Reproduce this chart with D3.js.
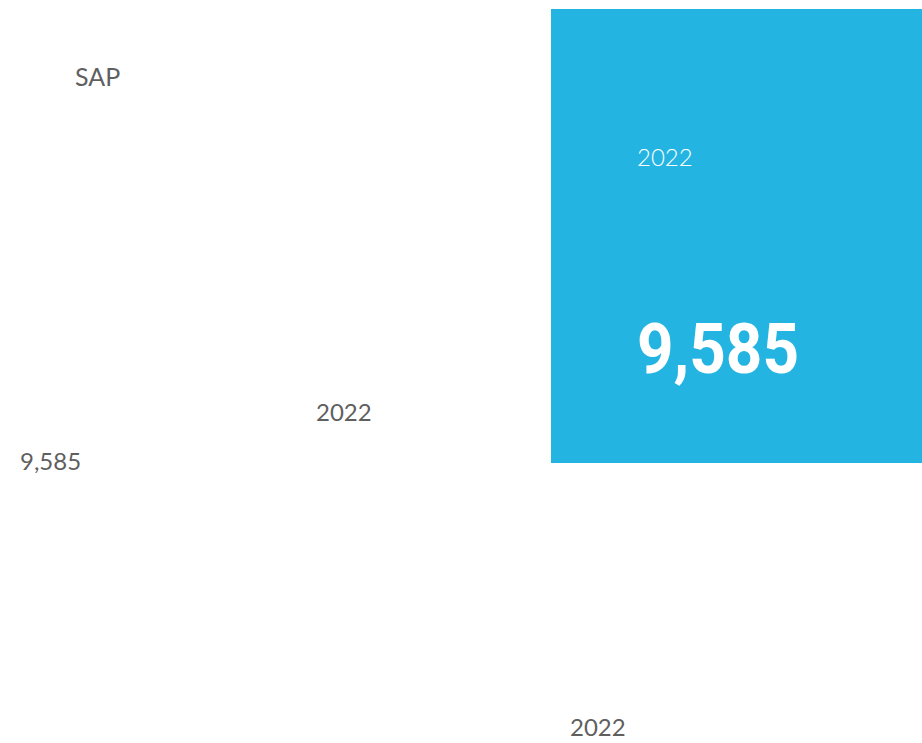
<!DOCTYPE html>
<html>
<head>
<meta charset="utf-8">
<script src="https://cdn.jsdelivr.net/npm/d3@7"></script>
<style>
  html, body { margin: 0; padding: 0; background: #ffffff; }
  svg { display: block; }
</style>
</head>
<body>
<svg id="chart" width="922" height="743"></svg>
<script>
// ---- data ----
const companies = ["SAP"];
const years = ["2022"];
const values = [9585];

const W = 922, H = 743;
const svg = d3.select("#chart");
const fmt = d3.format(",");

// tile layout via treemap
const root = d3.hierarchy({ children: companies.map((c, i) => ({ name: c, year: years[i], value: values[i] })) })
  .sum(d => d.value || 0);
d3.treemap().size([371, 454]).paddingInner(0)(root);

const tileG = svg.append("g").attr("transform", "translate(551,9)");
const leaves = root.leaves();

tileG.selectAll("rect.tile")
  .data(leaves)
  .join("rect")
  .attr("class", "tile")
  .attr("x", d => d.x0)
  .attr("y", d => d.y0)
  .attr("width", d => d.x1 - d.x0)
  .attr("height", d => d.y1 - d.y0)
  .attr("fill", "#24b4e1");

tileG.selectAll("text.tyear")
  .data(leaves)
  .join("text")
  .attr("class", "tyear")
  .attr("x", d => d.x0 + 86)
  .attr("y", d => d.y0 + 157)
  .attr("font-family", "Lato, sans-serif")
  .attr("font-weight", 300)
  .attr("font-size", 24)
  .attr("fill", "#ffffff")
  .text(d => d.data.year);

tileG.selectAll("text.tval")
  .data(leaves)
  .join("text")
  .attr("class", "tval")
  .attr("x", d => d.x0 + 86)
  .attr("y", d => d.y0 + 364)
  .attr("font-family", "Roboto, sans-serif")
  .attr("font-weight", 700)
  .attr("font-size", 70)
  .attr("textLength", 162)
  .attr("lengthAdjust", "spacingAndGlyphs")
  .attr("fill", "#ffffff")
  .text(d => fmt(d.data.value));

// stray labels outside the tile
const grey = "#5f5f5f";
svg.append("text")
  .attr("x", 75).attr("y", 86)
  .attr("font-family", "Lato, sans-serif")
  .attr("font-size", 25)
  .attr("fill", grey)
  .text(companies[0]);

svg.append("text")
  .attr("x", 316).attr("y", 421)
  .attr("font-family", "Lato, sans-serif")
  .attr("font-size", 24)
  .attr("fill", grey)
  .text(years[0]);

svg.append("text")
  .attr("x", 20).attr("y", 470)
  .attr("font-family", "Lato, sans-serif")
  .attr("font-size", 24)
  .attr("fill", grey)
  .text(fmt(values[0]));

svg.append("text")
  .attr("x", 570).attr("y", 736)
  .attr("font-family", "Lato, sans-serif")
  .attr("font-size", 24)
  .attr("fill", grey)
  .text(years[0]);
</script>
</body>
</html>
